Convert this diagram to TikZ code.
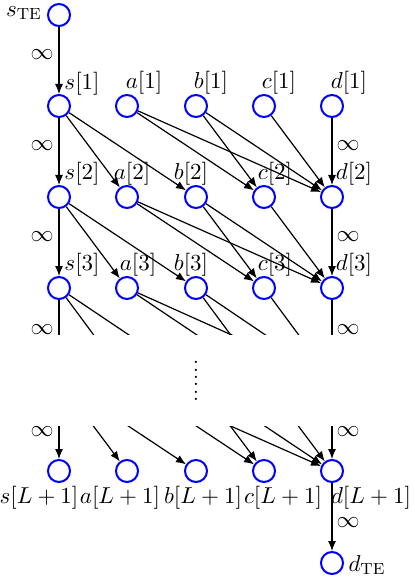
\RequirePackage{fix-cm}
\documentclass[tikz,border=0pt]{standalone}
\usetikzlibrary{arrows.meta}
\begin{document}
\begin{tikzpicture}[x=0.5pt,y=-0.5pt,
  every node/.style={font=\fontsize{11.5}{14}\selectfont},
  vtx/.style={circle,draw=blue,line width=1pt,minimum size=11pt,inner sep=0pt},
  ghost/.style={circle,minimum size=11pt,inner sep=0pt},
  arr/.style={-{Latex[length=5pt,width=4pt]},line width=0.6pt},
  lbl/.style={inner sep=0pt}]
\useasboundingbox (0,0) rectangle (415,577);
% nodes
\node[vtx] (sTE) at (59,15) {};
\node[vtx] (dTE) at (332,563) {};
\foreach \n/\x in {s/59,a/127,b/196,c/264,d/332}{
  \node[vtx] (\n1) at (\x,106) {};
  \node[vtx] (\n2) at (\x,197) {};
  \node[vtx] (\n3) at (\x,288) {};
  \node[ghost] (\n4) at (\x,380) {};
  \node[vtx] (\n5) at (\x,471) {};
}
% edges
\draw[arr] (sTE) -- (s1);
\draw[arr] (d5) -- (dTE);
\foreach \i/\j in {1/2,2/3,3/4,4/5}{
  \draw[arr] (s\i) -- (s\j);
  \draw[arr] (s\i) -- (a\j);
  \draw[arr] (s\i) -- (b\j);
  \draw[arr] (a\i) -- (c\j);
  \draw[arr] (a\i) -- (d\j);
  \draw[arr] (b\i) -- (c\j);
  \draw[arr] (b\i) -- (d\j);
  \draw[arr] (c\i) -- (d\j);
  \draw[arr] (d\i) -- (d\j);
}
% gap cover
\fill[white] (54,334.5) rectangle (337,425.5);
\node[lbl] (vd) at (196,381) {\vbox{\baselineskip=3.7pt\lineskiplimit=-10pt\hbox{.}\hbox{.}\hbox{.}\hbox{.}\hbox{.}\hbox{.}}};
% infinity labels
\foreach \y [count=\k] in {55,146,237,330,432}{
  \node[lbl] (infs\k) at (42,\y) {$\infty$};
}
\foreach \y [count=\k] in {146,237,330,432,523}{
  \node[lbl] (infd\k) at (348,\y) {$\infty$};
}
% node labels
\node[lbl] (lsTE) at (24,13) {$s_{\mathrm{TE}}$};
\node[lbl] (ldTE) at (367,565) {$d_{\mathrm{TE}}$};
\node[lbl] at (82,84) {$s[1]$};
\node[lbl] at (144,83) {$a[1]$};
\node[lbl] at (211,83) {$b[1]$};
\node[lbl] at (279,83) {$c[1]$};
\node[lbl] at (349,83) {$d[1]$};
\node[lbl] at (82,174) {$s[2]$};
\node[lbl] at (132,174) {$a[2]$};
\node[lbl] at (191,174) {$b[2]$};
\node[lbl] at (275,174) {$c[2]$};
\node[lbl] at (354,174) {$d[2]$};
\node[lbl] at (82,265) {$s[3]$};
\node[lbl] at (138,265) {$a[3]$};
\node[lbl] at (191,265) {$b[3]$};
\node[lbl] at (275,265) {$c[3]$};
\node[lbl] at (354,265) {$d[3]$};
\node[lbl] at (39,498) {$s[L+1]$};
\node[lbl] at (120,498) {$a[L+1]$};
\node[lbl] at (203,498) {$b[L+1]$};
\node[lbl] at (283,498) {$c[L+1]$};
\node[lbl] at (371,498) {$d[L+1]$};
\end{tikzpicture}
\end{document}
